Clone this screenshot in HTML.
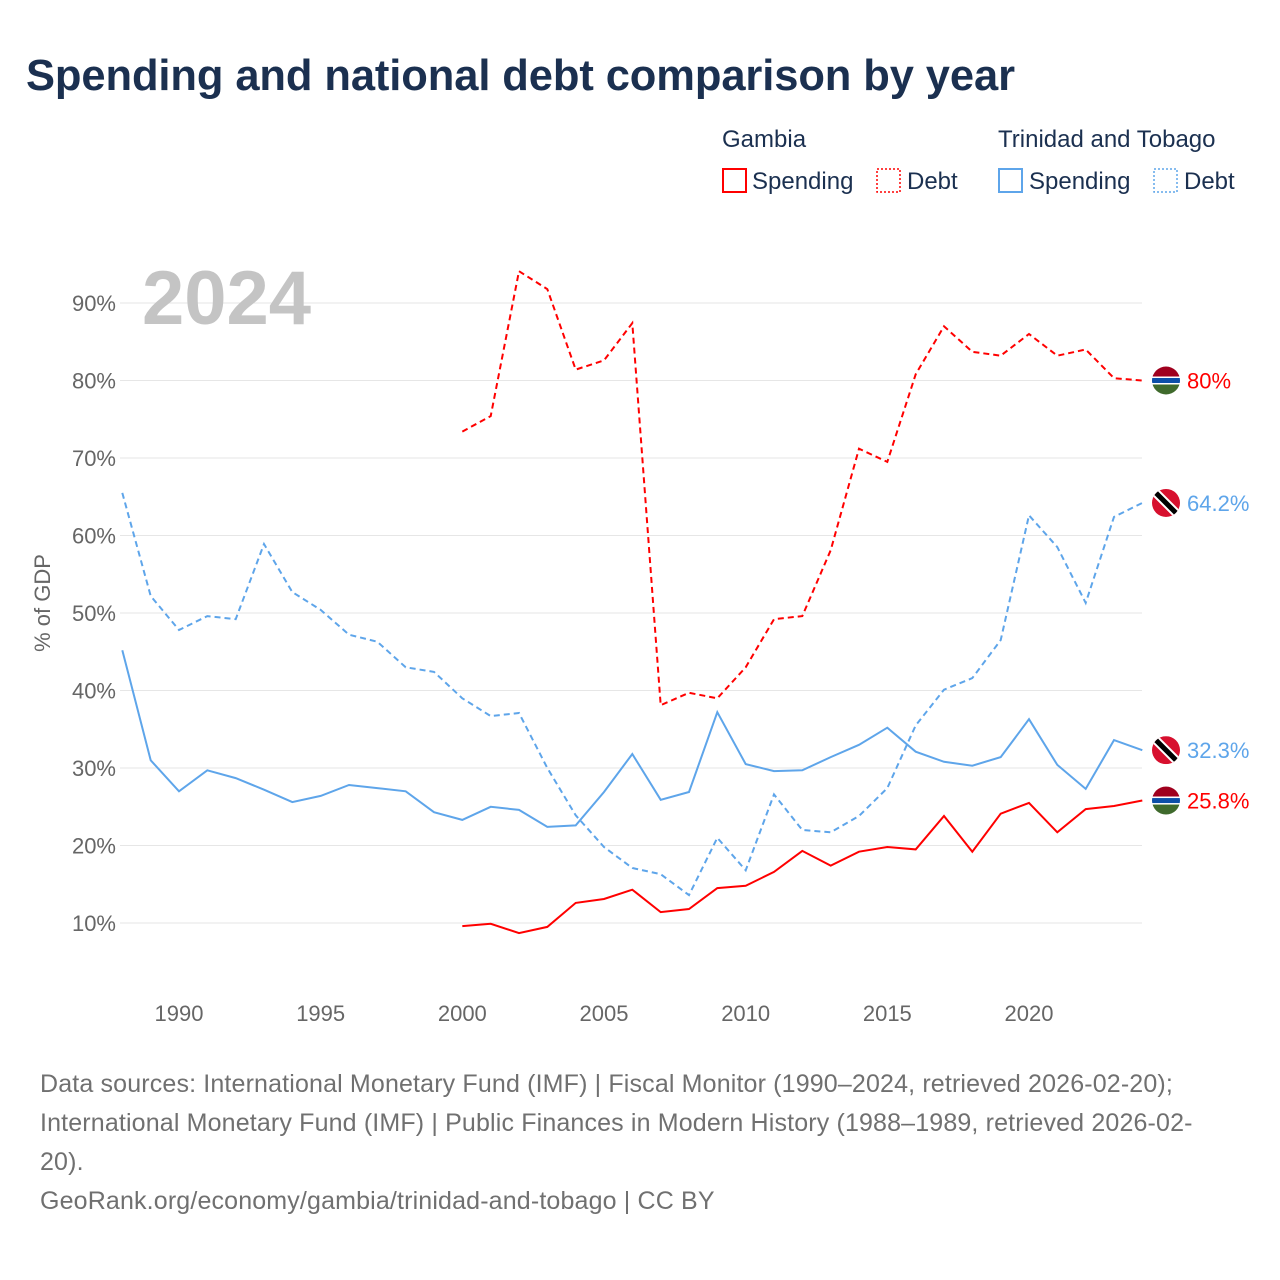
<!DOCTYPE html>
<html><head><meta charset="utf-8"><style>
body{margin:0;background:#fff;font-family:"Liberation Sans",sans-serif;}
#wrap{position:relative;width:1280px;height:1280px;overflow:hidden;}
h1{position:absolute;left:26px;top:52px;margin:0;font-size:43.5px;font-weight:bold;color:#1b3050;letter-spacing:-0.1px;}
.foot{position:absolute;left:40px;top:1065px;width:1230px;font-size:25px;letter-spacing:0.15px;line-height:39px;color:#707070;white-space:nowrap;}
</style></head><body><div id="wrap">
<h1>Spending and national debt comparison by year</h1>
<svg id="chart" width="1280" height="1280" style="position:absolute;left:0;top:0"></svg>
<div class="foot">Data sources: International Monetary Fund (IMF) | Fiscal Monitor (1990–2024, retrieved 2026-02-20);<br>International Monetary Fund (IMF) | Public Finances in Modern History (1988–1989, retrieved 2026-02-<br>20).<br>GeoRank.org/economy/gambia/trinidad-and-tobago | CC BY</div>
</div>
<script>
const yearsTT=[1988,1989,1990,1991,1992,1993,1994,1995,1996,1997,1998,1999,2000,2001,2002,2003,2004,2005,2006,2007,2008,2009,2010,2011,2012,2013,2014,2015,2016,2017,2018,2019,2020,2021,2022,2023,2024];
const ttSpending=[45.2,31.0,27.0,29.7,28.7,27.2,25.6,26.4,27.8,27.4,27.0,24.3,23.3,25.0,24.6,22.4,22.6,26.9,31.8,25.9,26.9,37.2,30.5,29.6,29.7,31.4,33.0,35.2,32.1,30.8,30.3,31.4,36.3,30.4,27.3,33.6,32.3];
const ttDebt=[65.5,52.2,47.8,49.6,49.2,58.9,52.7,50.4,47.2,46.3,43.0,42.4,39.0,36.7,37.1,30.0,23.9,19.8,17.1,16.3,13.6,21.0,16.8,26.6,22.0,21.7,23.8,27.4,35.5,40.1,41.6,46.5,62.6,58.5,51.3,62.4,64.2];
const yearsGM=[2000,2001,2002,2003,2004,2005,2006,2007,2008,2009,2010,2011,2012,2013,2014,2015,2016,2017,2018,2019,2020,2021,2022,2023,2024];
const gmSpending=[9.6,9.9,8.7,9.5,12.6,13.1,14.3,11.4,11.8,14.5,14.8,16.6,19.3,17.4,19.2,19.8,19.5,23.8,19.2,24.1,25.5,21.7,24.7,25.1,25.8];
const gmDebt=[73.4,75.4,94.1,91.8,81.4,82.6,87.4,38.1,39.7,39.0,43.0,49.2,49.6,58.1,71.2,69.5,80.8,87.0,83.7,83.2,86.0,83.2,84.0,80.3,80.0];
const yTicks=[10,20,30,40,50,60,70,80,90];
const xTicks=[1990,1995,2000,2005,2010,2015,2020];
const endLabels=["80%","64.2%","32.3%","25.8%"];

const NS="http://www.w3.org/2000/svg";
const svg=document.getElementById('chart');
const X=y=>179+(y-1990)*850/30;
const Y=v=>923-(v-10)*7.75;
function el(t,a,p){const e=document.createElementNS(NS,t);for(const k in a)e.setAttribute(k,a[k]);(p||svg).appendChild(e);return e;}
const RED="#ff0000",BLUE="#5ea5ea";
yTicks.forEach(v=>{
 const g=el('line',{x1:120,x2:1142,y1:Y(v),y2:Y(v),stroke:'#e6e6e6','stroke-width':1});
 
 
 const t=el('text',{x:116,y:Y(v)+8,'text-anchor':'end','font-size':22,fill:'#666'});
 t.textContent=v+'%';
 
 
});
xTicks.forEach(y=>{
 const t=el('text',{x:X(y),y:1021,'text-anchor':'middle','font-size':22,fill:'#666'});
 t.textContent=y;
 
 
});
const yt=el('text',{x:0,y:0,transform:'translate(50,603) rotate(-90)','text-anchor':'middle','font-size':22,fill:'#666'});
yt.textContent='% of GDP';


const yr=el('text',{x:142,y:324,'font-size':76,'font-weight':'bold',fill:'#c4c4c4'});
yr.textContent='2024';


function line(xs,vs,col,dash,name){
 const d=xs.map((y,i)=>(i?'L':'M')+X(y).toFixed(1)+','+Y(vs[i]).toFixed(1)).join('');
 const p=el('path',{d:d,fill:'none',stroke:col,'stroke-width':2,'stroke-dasharray':dash?'6,4':'none'});
 
 
}
line(yearsTT,ttDebt,BLUE,true,'trinidad-debt-line');
line(yearsTT,ttSpending,BLUE,false,'trinidad-spending-line');
line(yearsGM,gmDebt,RED,true,'gambia-debt-line');
line(yearsGM,gmSpending,RED,false,'gambia-spending-line');
function flag(cy,kind,lab,col){
 const cx=1166,g=el('g',{});
 
 
 const id='c'+Math.round(cy);
 const cp=el('clipPath',{id:id},g);el('circle',{cx:cx,cy:cy,r:14},cp);
 const h=el('g',{'clip-path':'url(#'+id+')'},g);
 if(kind==='gambia'){
  el('rect',{x:cx-14,y:cy-14,width:28,height:10,fill:'#a0001e'},h);
  el('rect',{x:cx-14,y:cy-4,width:28,height:8,fill:'#fff'},h);
  el('rect',{x:cx-14,y:cy-2.5,width:28,height:5,fill:'#0c4fa8'},h);
  el('rect',{x:cx-14,y:cy+4,width:28,height:10,fill:'#3f6a2c'},h);
 }else{
  el('rect',{x:cx-14,y:cy-14,width:28,height:28,fill:'#d7102e'},h);
  el('line',{x1:cx-14,y1:cy-14,x2:cx+14,y2:cy+14,stroke:'#fff','stroke-width':9},h);
  el('line',{x1:cx-14,y1:cy-14,x2:cx+14,y2:cy+14,stroke:'#000','stroke-width':5},h);
 }
 const t=el('text',{x:1187,y:cy+8,'font-size':22,fill:col});
 t.textContent=lab;
 
 
}
flag(Y(gmDebt[gmDebt.length-1]),'gambia',endLabels[0],RED);
flag(Y(ttDebt[ttDebt.length-1]),'trinidad',endLabels[1],BLUE);
flag(Y(ttSpending[ttSpending.length-1]),'trinidad',endLabels[2],BLUE);
flag(Y(gmSpending[gmSpending.length-1]),'gambia',endLabels[3],RED);
function lt(x,y,s,name){const t=el('text',{x:x,y:y,'font-size':24,fill:'#1b3050'});t.textContent=s;}
lt(722,147,'Gambia','legend-gambia-title');
lt(998,147,'Trinidad and Tobago','legend-trinidad-title');
function lb(x,col,dash,name){const r=el('rect',{x:x,y:169,width:23,height:23,fill:'none',stroke:col,'stroke-width':dash?1.5:2,'stroke-dasharray':dash?'2,2':'none'});}
lb(723,RED,false,'legend-gambia-spending');lt(752,189,'Spending','legend-label');
lb(877,RED,true,'legend-gambia-debt');lt(907,189,'Debt','legend-label');
lb(999,BLUE,false,'legend-trinidad-spending');lt(1029,189,'Spending','legend-label');
lb(1154,BLUE,true,'legend-trinidad-debt');lt(1184,189,'Debt','legend-label');
</script></body></html>
